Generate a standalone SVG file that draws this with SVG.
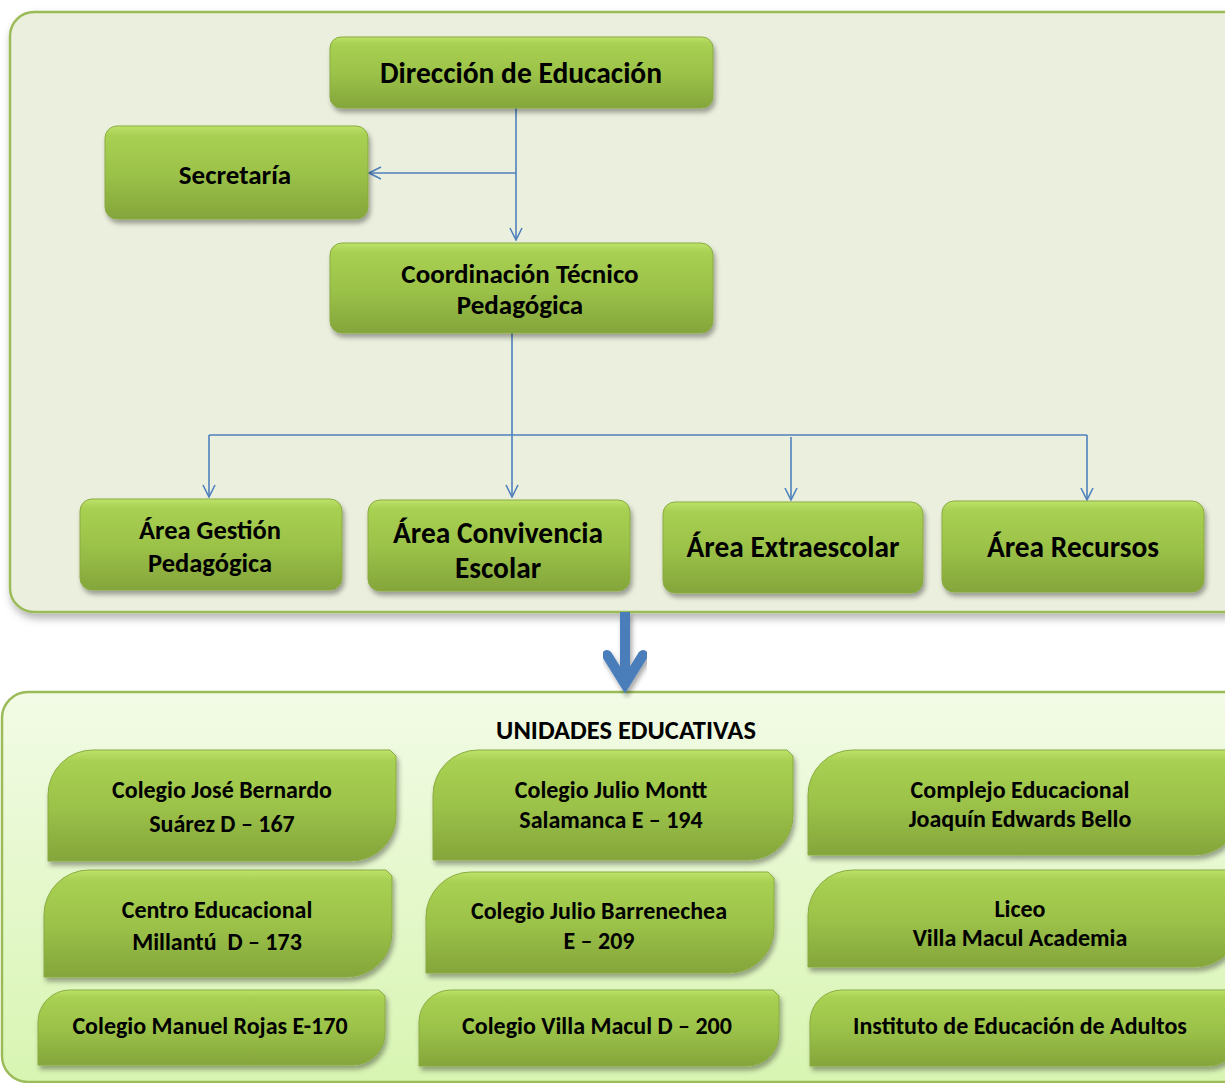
<svg xmlns="http://www.w3.org/2000/svg" width="1225" height="1083" viewBox="0 0 1225 1083">
<defs>
  <linearGradient id="g" x1="0" y1="0" x2="0" y2="1">
    <stop offset="0" stop-color="#bde36a"/>
    <stop offset="0.1" stop-color="#a8d052"/>
    <stop offset="0.5" stop-color="#9cc349"/>
    <stop offset="1" stop-color="#84a53b"/>
  </linearGradient>
  <linearGradient id="bot" x1="0" y1="0" x2="0" y2="1">
    <stop offset="0" stop-color="#f2fbe6"/>
    <stop offset="1" stop-color="#d8f5b2"/>
  </linearGradient>
  <filter id="sh" x="-10%" y="-10%" width="120%" height="130%">
    <feDropShadow dx="2" dy="4" stdDeviation="2.5" flood-color="#000" flood-opacity="0.35"/>
  </filter>
  <filter id="shc" x="-5%" y="-5%" width="110%" height="110%">
    <feDropShadow dx="2" dy="5" stdDeviation="4" flood-color="#000" flood-opacity="0.3"/>
  </filter>
  <marker id="ah" viewBox="0 0 14 14" refX="13" refY="7" markerWidth="14" markerHeight="14" markerUnits="userSpaceOnUse" orient="auto">
    <path d="M1,1 L13,7 L1,13" fill="none" stroke="#4f81bd" stroke-width="1.6"/>
  </marker>
</defs>
<style>
  .node { fill: url(#g); stroke: #8aab41; stroke-width: 1; filter: url(#sh); }
  .t { font-family: Carlito, Lato, "Open Sans", sans-serif; font-weight: bold; fill: #000; text-anchor: middle; white-space: pre; }
  .b { font-size: 24px; }
  .conn { fill: none; stroke: #4f81bd; stroke-width: 1.6; }
  .cont { stroke: #9bbb59; stroke-width: 2.5; }
</style>

<g id="container-top">
  <rect x="10" y="12" width="1240" height="600" rx="24" fill="#ebf0de" class="cont" filter="url(#shc)"/>
</g>
<g id="container-bottom">
  <rect x="2" y="692" width="1260" height="390" rx="26" fill="url(#bot)" class="cont"/>
</g>

<g id="connectors">
  <path class="conn" d="M516,108 V240" marker-end="url(#ah)"/>
  <path class="conn" d="M516,173 H369" marker-end="url(#ah)"/>
  <path class="conn" d="M512,333 V497" marker-end="url(#ah)"/>
  <path class="conn" d="M209,435 H1087"/>
  <path class="conn" d="M209,435 V497" marker-end="url(#ah)"/>
  <path class="conn" d="M791,437 V500" marker-end="url(#ah)"/>
  <path class="conn" d="M1087,435 V500" marker-end="url(#ah)"/>
  <g id="big-arrow" filter="url(#sh)">
    <path d="M625,612 V680" stroke="#4a7ebb" stroke-width="10" fill="none"/>
    <path d="M607,655 L625,684 L643,655" stroke="#4a7ebb" stroke-width="10" fill="none" stroke-linecap="round" stroke-linejoin="miter"/>
  </g>
</g>

<g id="n-direccion">
  <rect class="node" x="330" y="37" width="383" height="71" rx="11"/>
  <text class="t" x="521" y="83" font-size="29.5">Dirección de Educación</text>
</g>
<g id="n-secretaria">
  <rect class="node" x="105" y="126" width="263" height="93" rx="12"/>
  <text class="t" x="235" y="184" font-size="27">Secretaría</text>
</g>
<g id="n-coordinacion">
  <rect class="node" x="330" y="243" width="383" height="90" rx="12"/>
  <text class="t" x="520" y="283" font-size="27">Coordinación Técnico</text>
  <text class="t" x="520" y="314" font-size="27">Pedagógica</text>
</g>
<g id="n-gestion">
  <rect class="node" x="80" y="499" width="262" height="91" rx="12"/>
  <text class="t" x="210" y="539" font-size="26.5">Área Gestión</text>
  <text class="t" x="210" y="572" font-size="26.5">Pedagógica</text>
</g>
<g id="n-convivencia">
  <rect class="node" x="368" y="500" width="262" height="91" rx="12"/>
  <text class="t" x="498" y="543" font-size="29.4">Área Convivencia</text>
  <text class="t" x="498" y="578" font-size="29.4">Escolar</text>
</g>
<g id="n-extraescolar">
  <rect class="node" x="663" y="502" width="260" height="91" rx="12"/>
  <text class="t" x="793" y="557" font-size="29.4">Área Extraescolar</text>
</g>
<g id="n-recursos">
  <rect class="node" x="942" y="501" width="262" height="91" rx="12"/>
  <text class="t" x="1073" y="557" font-size="29.4">Área Recursos</text>
</g>

<g id="title-unidades">
  <text class="t" x="626" y="739" font-size="26.5">UNIDADES EDUCATIVAS</text>
</g>

<g id="u-jose-bernardo">
  <path class="node" d="M48,861 V795 A45,45 0 0 1 93,750 H390 L396,756 V816 A45,45 0 0 1 351,861 Z"/>
  <text class="t b" x="222" y="798">Colegio José Bernardo</text>
  <text class="t b" x="222" y="832">Suárez D – 167</text>
</g>
<g id="u-julio-montt">
  <path class="node" d="M433,860 V795 A45,45 0 0 1 478,750 H787 L793,756 V815 A45,45 0 0 1 748,860 Z"/>
  <text class="t b" x="611" y="798">Colegio Julio Montt</text>
  <text class="t b" x="611" y="828">Salamanca E – 194</text>
</g>
<g id="u-complejo">
  <path class="node" d="M808,855 V795 A45,45 0 0 1 853,750 H1234 L1240,756 V810 A45,45 0 0 1 1195,855 Z"/>
  <text class="t b" x="1020" y="798">Complejo Educacional</text>
  <text class="t b" x="1020" y="827">Joaquín Edwards Bello</text>
</g>

<g id="u-centro-millantu">
  <path class="node" d="M44,977 V915 A45,45 0 0 1 89,870 H386 L392,876 V932 A45,45 0 0 1 347,977 Z"/>
  <text class="t b" x="217" y="918">Centro Educacional</text>
  <text class="t b" x="217" y="950" xml:space="preserve">Millantú  D – 173</text>
</g>
<g id="u-julio-barrenechea">
  <path class="node" d="M426,973 V917 A45,45 0 0 1 471,872 H768 L774,878 V928 A45,45 0 0 1 729,973 Z"/>
  <text class="t b" x="599" y="919">Colegio Julio Barrenechea</text>
  <text class="t b" x="599" y="949">E – 209</text>
</g>
<g id="u-liceo">
  <path class="node" d="M808,967 V915 A45,45 0 0 1 853,870 H1234 L1240,876 V922 A45,45 0 0 1 1195,967 Z"/>
  <text class="t b" x="1020" y="917">Liceo</text>
  <text class="t b" x="1020" y="946">Villa Macul Academia</text>
</g>

<g id="u-manuel-rojas">
  <path class="node" d="M38,1065 V1022 A32,32 0 0 1 70,990 H379 L385,996 V1033 A32,32 0 0 1 353,1065 Z"/>
  <text class="t b" x="210" y="1034">Colegio Manuel Rojas E-170</text>
</g>
<g id="u-villa-macul">
  <path class="node" d="M419,1066 V1022 A32,32 0 0 1 451,990 H773 L779,996 V1034 A32,32 0 0 1 747,1066 Z"/>
  <text class="t b" x="597" y="1034">Colegio Villa Macul D – 200</text>
</g>
<g id="u-instituto">
  <path class="node" d="M810,1066 V1022 A32,32 0 0 1 842,990 H1234 L1240,996 V1034 A32,32 0 0 1 1208,1066 Z"/>
  <text class="t b" x="1020" y="1034">Instituto de Educación de Adultos</text>
</g>
</svg>
